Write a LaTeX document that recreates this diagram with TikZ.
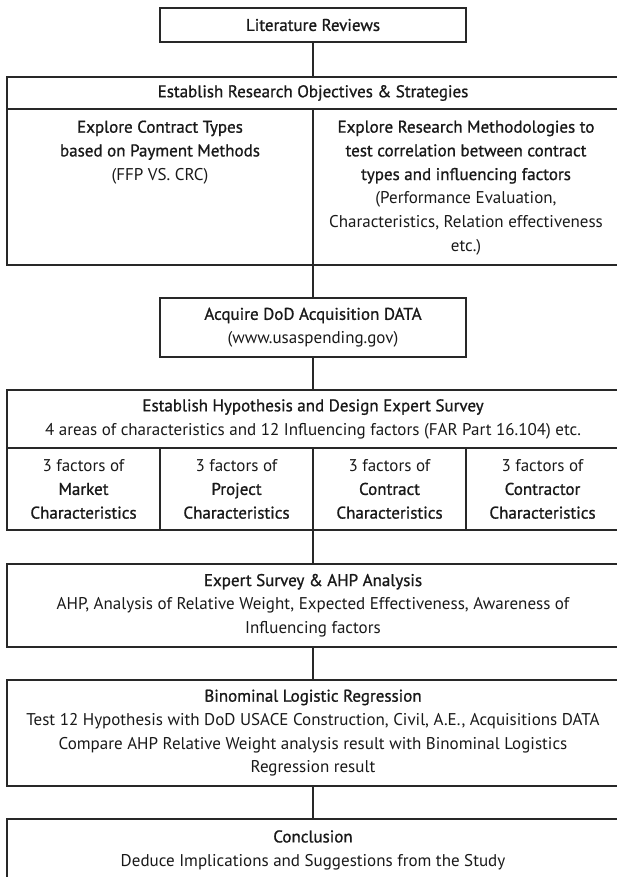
\documentclass[tikz,border=0pt]{standalone}
\usepackage{fontspec}
\setmainfont{PT Sans}
\newfontfamily\hdfont{PT Sans}[FakeBold=1]
\usetikzlibrary{positioning}
\definecolor{ink}{RGB}{40,40,40}
\newcommand\hd[1]{{\hdfont #1}}
\tikzset{
  txt/.style={align=center, inner sep=0pt, text=black!90, font=\fontsize{17}{23.7}\selectfont},
  frame/.style={draw=ink, line width=2.6pt, inner sep=0pt, txt},
  cell/.style={draw=ink, line width=1.2pt, inner sep=0pt, txt},
  link/.style={draw=ink, line width=2.6pt},
}
\begin{document}
\begin{tikzpicture}[x=1pt,y=-1pt]
    \useasboundingbox (0,0) rectangle (616,877);
    % step 1
    \node[frame, minimum width=306pt, minimum height=34pt] (lit) at (313,25) {\hd{Literature Reviews}};
    % step 2: objectives
    \node[cell, minimum width=612pt, minimum height=32pt] (objhd) at (313,93) {\hd{Establish Research Objectives \& Strategies}};
    \node[cell, minimum width=306pt, minimum height=156pt] (ctype) at (160,187) {};
    \node[cell, minimum width=306pt, minimum height=156pt] (cmeth) at (466,187) {};
    \node[frame, minimum width=612pt, minimum height=188pt] (obj) at (313,171) {};
    \node[txt, below=12pt of ctype.north] (ctypetxt) {\hd{Explore Contract Types}\\ \hd{based on Payment Methods}\\ (FFP VS. CRC)};
    \node[txt, below=12pt of cmeth.north] (cmethtxt) {\hd{Explore Research Methodologies to}\\ \hd{test correlation between contract}\\ \hd{types and influencing factors}\\ (Performance Evaluation,\\ Characteristics, Relation effectiveness\\ etc.)};
    % step 3: data
    \node[frame, minimum width=306pt, minimum height=59pt] (acq) at (313,327.5) {\hd{Acquire DoD Acquisition DATA}\\ (www.usaspending.gov)};
    % step 4: hypothesis
    \node[cell, minimum width=612pt, minimum height=58pt] (hyphd) at (313,419) {\hd{Establish Hypothesis and Design Expert Survey}\\ 4 areas of characteristics and 12 Influencing factors (FAR Part 16.104) etc.};
    \node[cell, minimum width=153pt, minimum height=82pt] (fmkt) at (83.5,489) {3 factors of\\ \hd{Market}\\ \hd{Characteristics}};
    \node[cell, minimum width=153pt, minimum height=82pt] (fprj) at (236.5,489) {3 factors of\\ \hd{Project}\\ \hd{Characteristics}};
    \node[cell, minimum width=153pt, minimum height=82pt] (fctr) at (389.5,489) {3 factors of\\ \hd{Contract}\\ \hd{Characteristics}};
    \node[cell, minimum width=153pt, minimum height=82pt] (fcon) at (542.5,489) {3 factors of\\ \hd{Contractor}\\ \hd{Characteristics}};
    \node[frame, minimum width=612pt, minimum height=140pt] (hyp) at (313,460) {};
    % step 5-7
    \node[frame, minimum width=612pt, minimum height=83pt] (ahp) at (313,605.5) {\hd{Expert Survey \& AHP Analysis}\\ AHP, Analysis of Relative Weight, Expected Effectiveness, Awareness of\\ Influencing factors};
    \node[frame, minimum width=612pt, minimum height=106pt] (blr) at (313,733) {\hd{Binominal Logistic Regression}\\ Test 12 Hypothesis with DoD USACE Construction, Civil, A.E., Acquisitions DATA\\ Compare AHP Relative Weight analysis result with Binominal Logistics\\ Regression result};
    \node[frame, minimum width=612pt, minimum height=62pt] (conc) at (313,850) {\hd{Conclusion}\\ Deduce Implications and Suggestions from the Study};
    % connectors
    \draw[link] (lit) -- (obj);
    \draw[link] (obj) -- (acq);
    \draw[link] (acq) -- (hyp);
    \draw[link] (hyp) -- (ahp);
    \draw[link] (ahp) -- (blr);
    \draw[link] (blr) -- (conc);
\end{tikzpicture}
\end{document}
